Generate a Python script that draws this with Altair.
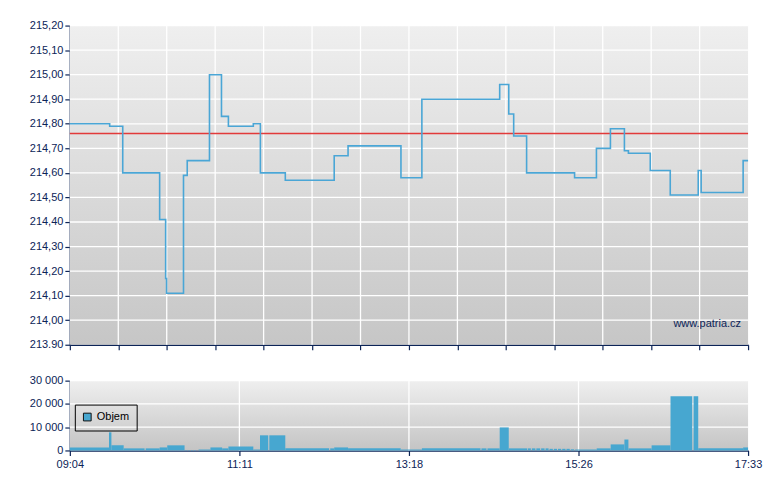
import altair as alt
import pandas as pd

# ---------------- data (minutes after 09:04) ----------------
price_min = [0, 29.9, 39.7, 67.4, 71.9, 72.6, 85.3, 88.1, 104.8, 113.8, 119.0,
             137.7, 143.0, 161.7, 198.4, 208.8, 248.5, 264.2, 322.6, 329.4,
             333.1, 342.8, 378.8, 395.2, 405.7, 416.2, 419.2, 435.6, 450.6,
             471.6, 473.8, 505.3, 509]
price_val = [214.80, 214.79, 214.60, 214.41, 214.17, 214.11, 214.59, 214.65,
             215.00, 214.83, 214.79, 214.80, 214.60, 214.57, 214.67, 214.71,
             214.58, 214.90, 214.96, 214.84, 214.75, 214.60, 214.58, 214.70,
             214.78, 214.69, 214.68, 214.61, 214.51, 214.61, 214.52, 214.65,
             214.65]
ref_price = 214.76

vol_start = [0, 29.4, 31.2, 40.4, 56.9, 67.4, 73.1, 86.6, 88.8, 91.0, 93.2,
             96.6, 105.5, 114.3, 119.0, 137.7, 142.7, 149.7, 161.7, 195.4,
             198.4, 208.8, 248.3, 264.2, 308.9, 313.4, 322.6, 329.4, 343.6,
             346.7, 350.1, 353.7, 357.0, 360.0, 363.2, 366.3, 369.5, 372.7,
             375.9, 379.2, 395.4, 405.9, 416.2, 419.2, 436.6, 450.8, 468.1,
             471.6, 505.3]
vol_end = [29.4, 31.2, 40.4, 56.1, 67.4, 73.1, 86.1, 87.8, 90.0, 92.2, 94.4,
           105.5, 114.3, 119.0, 137.7, 142.7, 148.9, 161.7, 194.6, 198.4,
           208.8, 248.3, 264.2, 308.2, 312.7, 322.6, 329.4, 343.1, 346.0,
           349.4, 353.0, 356.3, 359.3, 362.5, 365.6, 368.8, 372.0, 375.2,
           378.5, 395.4, 405.9, 416.2, 419.2, 436.6, 450.8, 467.1, 471.6,
           505.3, 509]
vol_val = [1300, 7800, 2200, 900, 900, 1300, 2200, 250, 250, 250, 250,
           400, 1300, 900, 1700, 400, 6500, 6500, 900, 900,
           1300, 900, 400, 900, 900, 900, 9900, 900, 900,
           900, 900, 900, 900, 700, 700, 700, 700, 700,
           500, 400, 900, 2600, 4700, 900, 2200, 23300, 23300,
           900, 1300]

x_labels = ["09:04", "11:11", "13:18", "15:26", "17:33"]
price_ticks = [213.9, 214.0, 214.1, 214.2, 214.3, 214.4, 214.5, 214.6,
               214.7, 214.8, 214.9, 215.0, 215.1, 215.2]
vol_ticks = [0, 10000, 20000, 30000]

# ---------------- tables ----------------
price_df = pd.DataFrame({"t": price_min, "p": price_val})
vol_df = pd.DataFrame({"t0": vol_start, "t1": vol_end, "v": vol_val,
                       "series": "Objem"})

T_END = 509
top_ticks = [i * T_END / 14 for i in range(15)]
bot_ticks = [i * T_END / 4 for i in range(5)]
bot_label_expr = " : ".join(
    [f"datum.value < {bot_ticks[i] + 1} ? '{x_labels[i]}'" for i in range(4)]
) + f" : '{x_labels[4]}'"

NAVY = "#0c2457"
FONT = "Liberation Sans"
W = 680
H_TOP = 320
H_BOT = 70


def grad(c0, c1):
    return alt.Gradient(gradient="linear",
                        stops=[alt.GradientStop(color=c0, offset=0),
                               alt.GradientStop(color=c1, offset=1)],
                        x1=0, x2=0, y1=0, y2=1)


axis_common = dict(domainColor=NAVY, tickColor=NAVY, labelColor=NAVY,
                   labelFont=FONT, labelFontSize=11, grid=False,
                   domainWidth=1.5, tickWidth=1.2, tickSize=5)

one = pd.DataFrame({"a": [0]})

# ---------------- top panel ----------------
x_top = alt.X("t:Q", scale=alt.Scale(domain=[0, T_END], nice=False, zero=False),
              axis=alt.Axis(values=top_ticks, labels=False, title=None,
                            **axis_common))
y_top = alt.Y("p:Q", scale=alt.Scale(domain=[213.9, 215.2], nice=False, zero=False),
              axis=alt.Axis(values=price_ticks, title=None,
                            labelExpr="datum.value < 213.95 ? '213.90' : replace(format(datum.value, '.2f'), '.', ',')",
                            **axis_common))

bg_top = alt.Chart(one).mark_rect(color=grad("#efefef", "#c6c6c6")).encode(
    x=alt.value(0), x2=alt.value(W), y=alt.value(0), y2=alt.value(H_TOP))
vgrid_top = alt.Chart(pd.DataFrame({"t": top_ticks[1:-1]})).mark_rule(
    color="white", strokeWidth=1.3).encode(x=x_top)
hgrid_top = alt.Chart(pd.DataFrame({"p": price_ticks[1:]})).mark_rule(
    color="white", strokeWidth=1.3).encode(y=y_top)
line = alt.Chart(price_df).mark_line(interpolate="step-after", color="#4aa6d6",
                                     strokeWidth=1.6).encode(x=x_top, y=y_top)
ref = alt.Chart(pd.DataFrame({"p": [ref_price]})).mark_rule(
    color="#e23a3a", strokeWidth=1.5, opacity=1).encode(y=y_top)
wm = alt.Chart(pd.DataFrame({"txt": ["www.patria.cz"]})).mark_text(
    align="right", baseline="alphabetic", font=FONT, fontSize=11, color=NAVY
).encode(text="txt:N", x=alt.value(673), y=alt.value(302))

top = alt.layer(bg_top, vgrid_top, hgrid_top, ref, line, wm).properties(
    width=W, height=H_TOP)

# ---------------- bottom panel ----------------
x_bot = alt.X("t0:Q", scale=alt.Scale(domain=[0, T_END], nice=False, zero=False),
              axis=alt.Axis(values=bot_ticks, title=None, labelExpr=bot_label_expr,
                            labelPadding=3, labelFlush=False, **axis_common))
y_bot = alt.Y("v:Q", scale=alt.Scale(domain=[0, 30000], nice=False),
              axis=alt.Axis(values=vol_ticks, title=None,
                            labelExpr="replace(format(datum.value, ','), ',', ' ')",
                            **axis_common))

bg_bot = alt.Chart(one).mark_rect(color=grad("#efefef", "#c4c4c4")).encode(
    x=alt.value(0), x2=alt.value(W), y=alt.value(0), y2=alt.value(H_BOT))
vgrid_bot = alt.Chart(pd.DataFrame({"t0": bot_ticks[1:-1]})).mark_rule(
    color="white", strokeWidth=1.3).encode(x=x_bot)
hgrid_bot = alt.Chart(pd.DataFrame({"v": vol_ticks[1:]})).mark_rule(
    color="white", strokeWidth=1.3).encode(y=y_bot)

bars = alt.Chart(vol_df).mark_rect(strokeWidth=0).encode(
    x=x_bot, x2="t1:Q", y=y_bot, y2=alt.datum(0),
    color=alt.Color("series:N", scale=alt.Scale(range=["#47a7d0"]),
                    legend=alt.Legend(orient="none", legendX=5, legendY=380,
                                      title=None, strokeColor="black",
                                      padding=7, cornerRadius=0,
                                      symbolType="square",
                                      symbolStrokeColor="#111",
                                      symbolStrokeWidth=1, symbolSize=60,
                                      labelFont=FONT, labelFontSize=11,
                                      labelColor="black", symbolOpacity=1)))

bottom = alt.layer(bg_bot, vgrid_bot, hgrid_bot, bars).properties(
    width=W, height=H_BOT)

chart = alt.vconcat(top, bottom, spacing=24).properties(
    padding={"left": 21, "top": 11, "right": 10, "bottom": 10}
).configure_view(stroke=None)

chart.save("out.html", embed_options={"renderer": "svg", "actions": False})
